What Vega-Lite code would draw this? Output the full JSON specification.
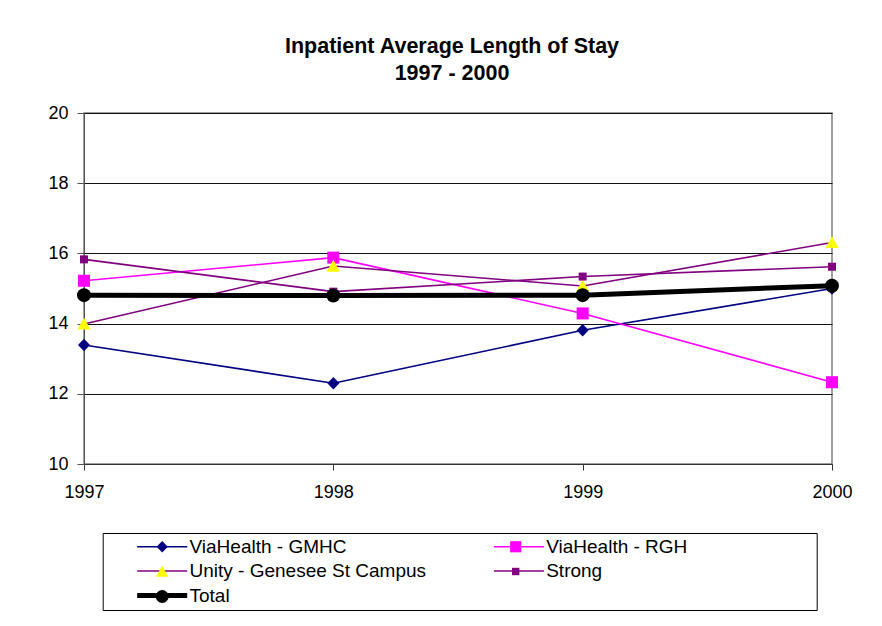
{
  "$schema": "https://vega.github.io/schema/vega-lite/v6.json",
  "width": 748,
  "height": 351,
  "autosize": {"type": "none"},
  "padding": {"left": 84, "top": 113, "right": 50, "bottom": 162},
  "background": "white",
  "title": {
    "text": ["Inpatient Average Length of Stay", "1997 - 2000"],
    "font": "Liberation Sans",
    "fontSize": 21.5,
    "fontWeight": "bold",
    "color": "black",
    "lineHeight": 27,
    "anchor": "middle",
    "dx": -6,
    "offset": 20
  },
  "data": {
    "values": [
      {"series": "ViaHealth - GMHC", "year": 1997, "value": 13.39},
      {"series": "ViaHealth - GMHC", "year": 1998, "value": 12.30},
      {"series": "ViaHealth - GMHC", "year": 1999, "value": 13.81},
      {"series": "ViaHealth - GMHC", "year": 2000, "value": 15.00},
      {"series": "ViaHealth - RGH", "year": 1997, "value": 15.22},
      {"series": "ViaHealth - RGH", "year": 1998, "value": 15.88},
      {"series": "ViaHealth - RGH", "year": 1999, "value": 14.29},
      {"series": "ViaHealth - RGH", "year": 2000, "value": 12.33},
      {"series": "Unity - Genesee St Campus", "year": 1997, "value": 13.99},
      {"series": "Unity - Genesee St Campus", "year": 1998, "value": 15.64},
      {"series": "Unity - Genesee St Campus", "year": 1999, "value": 15.07},
      {"series": "Unity - Genesee St Campus", "year": 2000, "value": 16.31},
      {"series": "Strong", "year": 1997, "value": 15.83},
      {"series": "Strong", "year": 1998, "value": 14.91},
      {"series": "Strong", "year": 1999, "value": 15.34},
      {"series": "Strong", "year": 2000, "value": 15.62},
      {"series": "Total", "year": 1997, "value": 14.81},
      {"series": "Total", "year": 1998, "value": 14.80},
      {"series": "Total", "year": 1999, "value": 14.81},
      {"series": "Total", "year": 2000, "value": 15.08}
    ]
  },
  "layer": [
    {
      "mark": {"type": "line", "strokeJoin": "round"},
      "encoding": {
        "x": {
          "field": "year", "type": "quantitative",
          "scale": {"domain": [1997, 2000], "nice": false, "zero": false},
          "axis": {
            "values": [1997, 1998, 1999, 2000], "format": "d", "title": null, "grid": false,
            "domainColor": "#333333", "tickColor": "#333333", "tickSize": 6,
            "labelFont": "Liberation Sans", "labelFontSize": 18, "labelColor": "black",
            "labelPadding": 13, "labelFlush": false, "labelOverlap": false
          }
        },
        "y": {
          "field": "value", "type": "quantitative",
          "scale": {"domain": [10, 20], "nice": false, "zero": false},
          "axis": {
            "values": [10, 12, 14, 16, 18, 20], "title": null, "grid": true,
            "gridColor": "#111111", "gridWidth": 1,
            "domainColor": "#555555", "tickColor": "#555555", "tickSize": 7,
            "labelFont": "Liberation Sans", "labelFontSize": 18, "labelColor": "black",
            "labelPadding": 9
          }
        },
        "stroke": {
          "field": "series", "type": "nominal",
          "sort": ["ViaHealth - GMHC", "ViaHealth - RGH", "Unity - Genesee St Campus", "Strong", "Total"],
          "scale": {
            "range": ["#000080", "#FF00FF", "#800080", "#800080", "#000000"]
          },
          "legend": {
            "title": null, "orient": "none", "legendX": 18.7, "legendY": 420,
            "direction": "horizontal",
            "columns": 2, "gridAlign": "all", "columnPadding": 0.7, "rowPadding": 3.5,
            "padding": 4, "symbolSize": 144, "symbolType": "M-4.17,0H4.17M48.27,0",
            "symbolOffset": 46, "labelOffset": 17.8,
            "labelFont": "Liberation Sans", "labelFontSize": 19, "labelColor": "black",
            "labelLimit": 500,
            "strokeColor": "black", "fillColor": "white", "zindex": 0,
            "encode": {"symbols": {"update": {"strokeWidth": {"signal": "datum.value === 'Total' ? 5 : 1.6"}}}}
          }
        },
        "strokeWidth": {"condition": {"test": "datum.series === 'Total'", "value": 5}, "value": 1.6}
      }
    },
    {
      "mark": {"type": "point", "filled": true, "size": 196, "opacity": 1, "strokeWidth": 0},
      "encoding": {
        "x": {"field": "year", "type": "quantitative"},
        "y": {"field": "value", "type": "quantitative"},
        "fill": {
          "field": "series", "type": "nominal",
          "scale": {
            "domain": ["ViaHealth - GMHC", "ViaHealth - RGH", "Unity - Genesee St Campus", "Strong", "Total"],
            "range": ["#000080", "#FF00FF", "#FFFF00", "#800080", "#000000"]
          },
          "legend": {
            "title": null, "orient": "none", "legendX": 18.7, "legendY": 420,
            "direction": "horizontal",
            "columns": 2, "gridAlign": "all", "columnPadding": 270.5, "rowPadding": 5,
            "padding": 4, "symbolSize": 169, "symbolStrokeWidth": 0, "symbolOpacity": 1,
            "symbolOffset": 46, "labelOffset": 17.8,
            "labelFont": "Liberation Sans", "labelFontSize": 19,
            "labelExpr": "''",
            "zindex": 1
          }
        },
        "shape": {
          "field": "series", "type": "nominal",
          "scale": {
            "domain": ["ViaHealth - GMHC", "ViaHealth - RGH", "Unity - Genesee St Campus", "Strong", "Total"],
            "range": [
            "M0,-0.9L0.86,0L0,0.9L-0.86,0Z",
            "M-0.86,-0.86H0.86V0.86H-0.86Z",
            "M0,-0.9L0.95,0.8H-0.95Z",
            "M-0.57,-0.57H0.57V0.57H-0.57Z",
            "circle"
          ]},
          "legend": {
            "title": null, "orient": "none", "legendX": 18.7, "legendY": 420,
            "direction": "horizontal",
            "columns": 2, "gridAlign": "all", "columnPadding": 270.5, "rowPadding": 5,
            "padding": 4, "symbolSize": 169, "symbolStrokeWidth": 0, "symbolOpacity": 1,
            "symbolOffset": 46, "labelOffset": 17.8,
            "labelFont": "Liberation Sans", "labelFontSize": 19,
            "labelExpr": "''",
            "zindex": 1
          }
        }
      }
    }
  ],
  "config": {
    "view": {"stroke": "#808080", "strokeWidth": 1.5}
  }
}
